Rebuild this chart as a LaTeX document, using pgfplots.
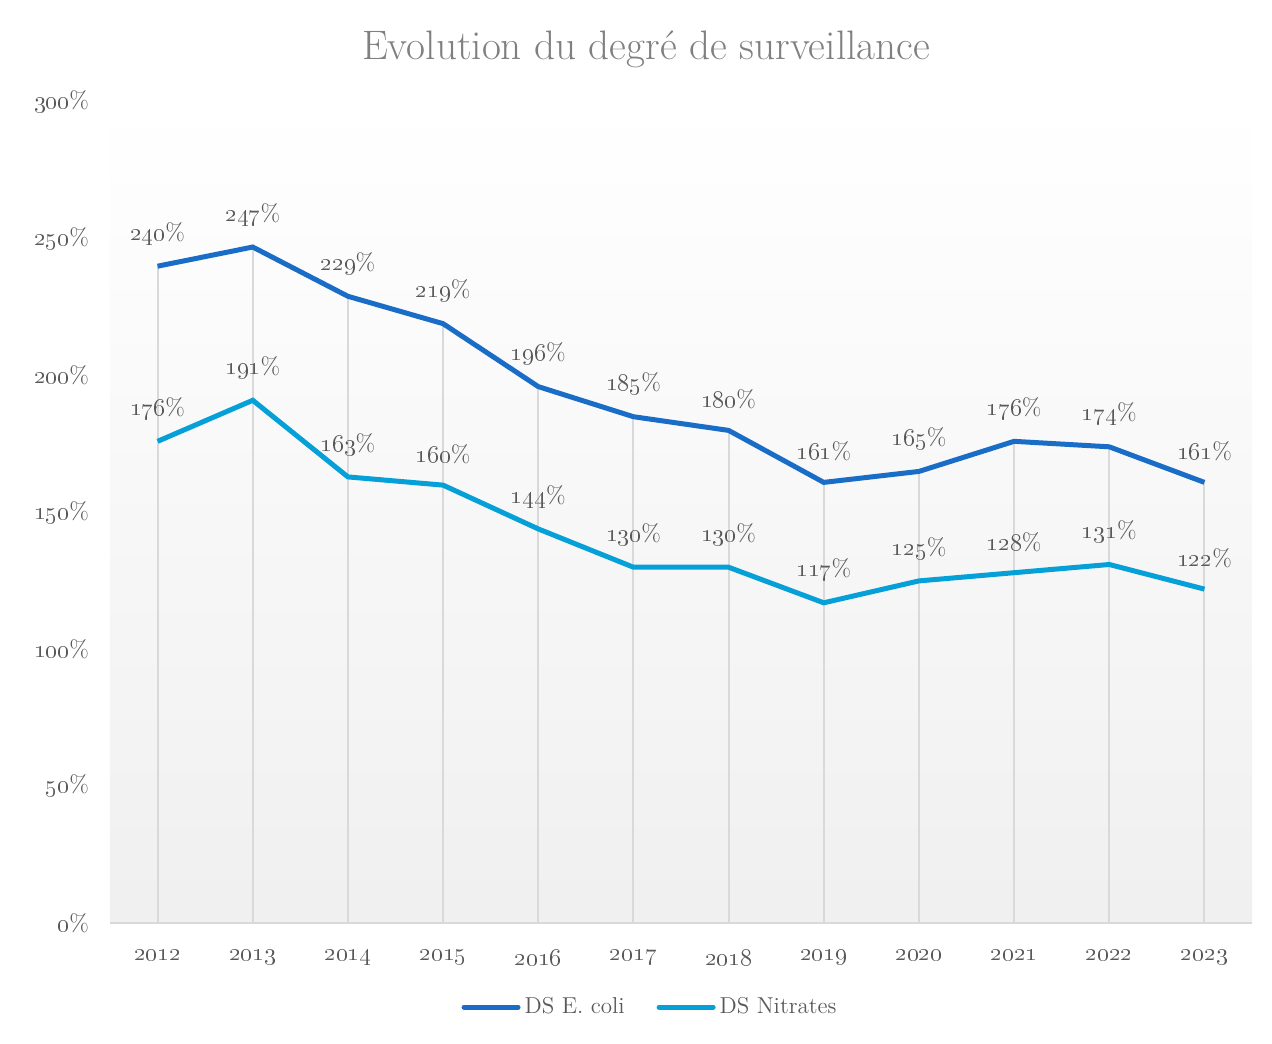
\documentclass[border=0pt]{standalone}
\usepackage{pgfplots}
\pgfplotsset{compat=1.18}
\definecolor{ecoli}{HTML}{1A6DC7}
\definecolor{nitr}{HTML}{05A0D8}
\definecolor{txt}{HTML}{595959}
\definecolor{ttl}{HTML}{808080}
\definecolor{grd}{HTML}{D9D9D9}

\begin{document}
\begin{tikzpicture}
\begin{axis}[
  at={(55pt,60pt)}, anchor=south west,
  scale only axis, width=571pt, height=410.5pt,
  xmin=2011.5, xmax=2023.5, ymin=0, ymax=300,
  xtick={2012,...,2023},
  xticklabels={\oldstylenums{2012},\oldstylenums{2013},\oldstylenums{2014},\oldstylenums{2015},\oldstylenums{2016},\oldstylenums{2017},\oldstylenums{2018},\oldstylenums{2019},\oldstylenums{2020},\oldstylenums{2021},\oldstylenums{2022},\oldstylenums{2023}},
  ytick={0,50,...,300},
  yticklabel={\oldstylenums{\pgfmathprintnumber[assume math mode=true]{\tick}}\%},
  axis x line*=bottom, axis y line*=left,
  y axis line style={draw=none},
  x axis line style={grd, line width=1pt, -},
  major tick length=0pt,
  tick label style={font=\fontsize{12}{14}\selectfont, text=txt},
  yticklabel style={xshift=-7pt},
  xticklabel style={yshift=-10pt},
  axis background/.style={top color=white, bottom color=gray!12},
  clip=false,
  legend columns=2,
  legend cell align=left,
  legend style={at={(0.5,0)}, anchor=center, xshift=-15pt, yshift=-42pt, draw=none, fill=none,
    font=\fontsize{11.5}{13}\selectfont, text=txt,
    /tikz/every even column/.append style={column sep=14pt}},
  legend image code/.code={\draw[#1, line cap=round] (0pt,0pt) -- (27pt,0pt);},
  every node near coord/.append style={font=\fontsize{12}{14}\selectfont, text=txt, anchor=south, yshift=6pt},
]

% drop lines up to the upper series
\addplot[grd, line width=1pt, ycomb, forget plot] coordinates {
  (2012,240) (2013,247) (2014,229) (2015,219) (2016,196) (2017,185)
  (2018,180) (2019,161) (2020,165) (2021,176) (2022,174) (2023,161)
};

\addplot[ecoli, line width=2.5pt,
  nodes near coords={\oldstylenums{\pgfmathprintnumber[assume math mode=true]{\pgfplotspointmeta}}\%}]
  coordinates {
  (2012,240) (2013,247) (2014,229) (2015,219) (2016,196) (2017,185)
  (2018,180) (2019,161) (2020,165) (2021,176) (2022,174) (2023,161)
};
\addlegendentry{DS E. coli}

\addplot[nitr, line width=2.5pt,
  nodes near coords={\oldstylenums{\pgfmathprintnumber[assume math mode=true]{\pgfplotspointmeta}}\%}]
  coordinates {
  (2012,176) (2013,191) (2014,163) (2015,160) (2016,144) (2017,130)
  (2018,130) (2019,117) (2020,125) (2021,128) (2022,131) (2023,122)
};
\addlegendentry{DS Nitrates}
\end{axis}

\node[text=ttl, font=\fontsize{20.6}{23}\selectfont] at (323pt,497pt) {Evolution du degré de surveillance};

\pgfresetboundingbox
\useasboundingbox (0pt,0pt) rectangle (636pt,521.5pt);
\end{tikzpicture}
\end{document}
